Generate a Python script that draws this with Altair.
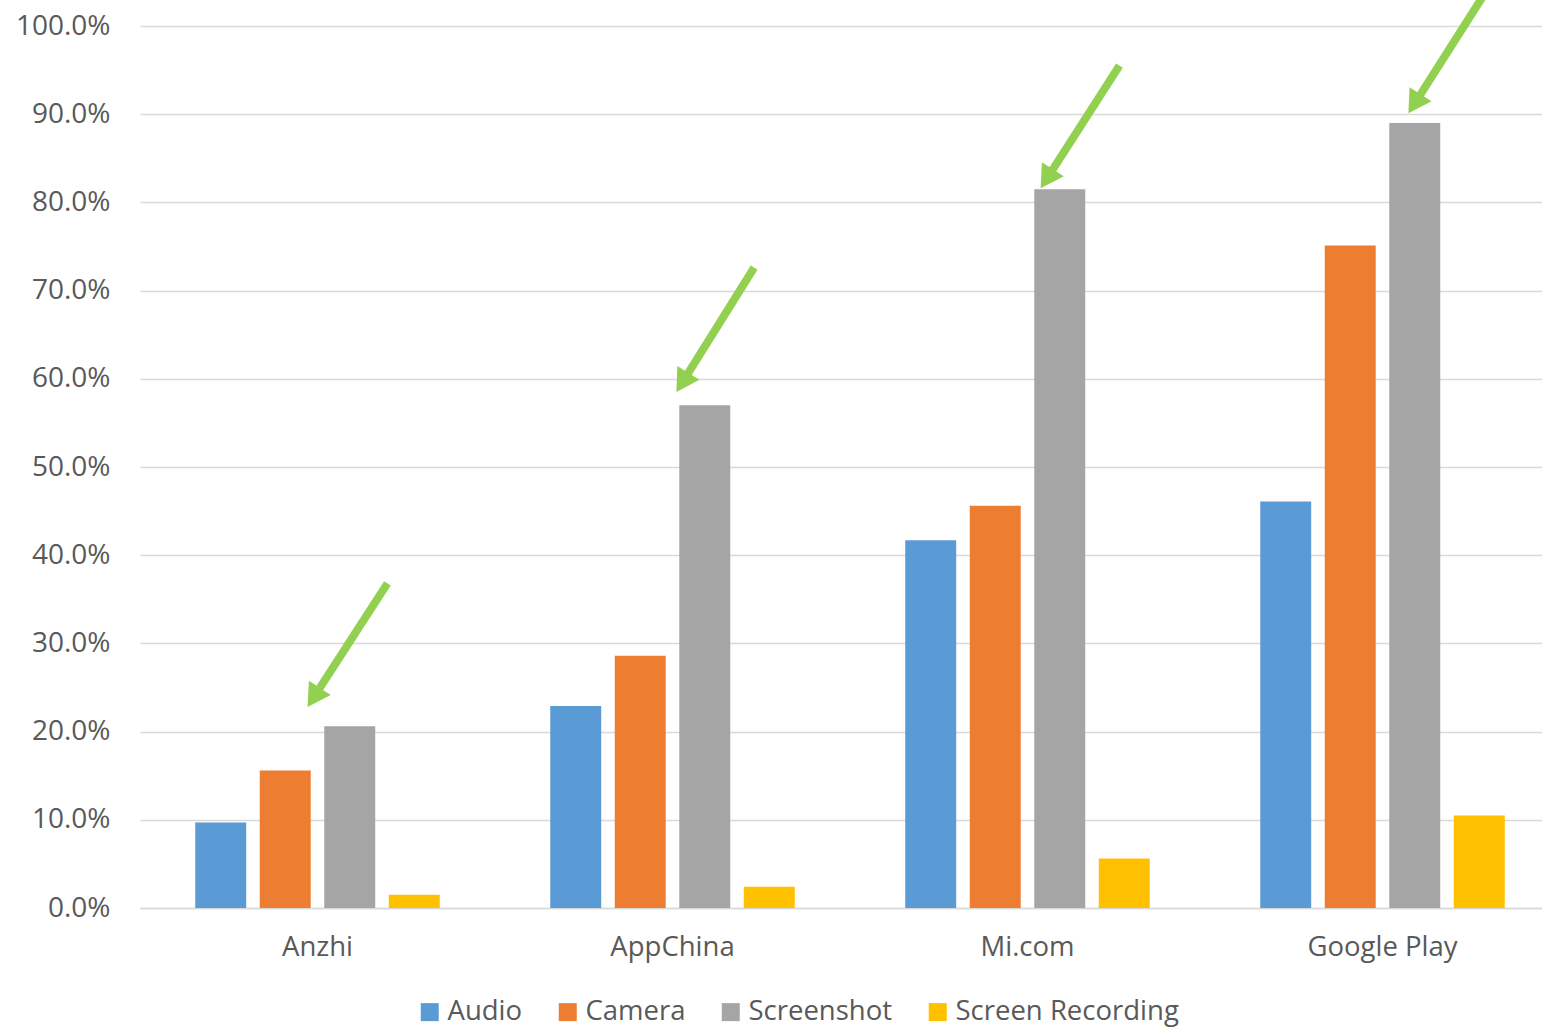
import math
import altair as alt
import pandas as pd

# ---------------- data ----------------
stores = ["Anzhi", "AppChina", "Mi.com", "Google Play"]
series = ["Audio", "Camera", "Screenshot", "Screen Recording"]
audio = [0.097, 0.229, 0.417, 0.461]
camera = [0.156, 0.286, 0.456, 0.751]
screenshot = [0.206, 0.570, 0.815, 0.890]
recording = [0.015, 0.024, 0.056, 0.105]
y_ticks = [0.0, 0.1, 0.2, 0.3, 0.4, 0.5, 0.6, 0.7, 0.8, 0.9, 1.0]

# arrow annotations (x offsets from the store's centre in store-widths, y in share)
arrow_tail_dx = [0.197, 0.230, 0.259, 0.293]
arrow_tail_y = [0.368, 0.726, 0.955, 1.040]
arrow_tip_dx = [-0.028, 0.011, 0.037, 0.073]
arrow_tip_y = [0.228, 0.585, 0.816, 0.901]

colors = ["#5B9BD5", "#ED7D31", "#A5A5A5", "#FFC000"]
arrow_color = "#92D050"
text_color = "#595959"
font = "Open Sans"

W, H = 1400, 882
XR = 1420                # band range (plot continues past the right edge)
PX_X = XR / len(stores)  # px per store unit
PX_Y = H / 1.0           # px per 100%
HEAD_SIZE = 680
HEAD_H = math.sqrt(3) / 2 * math.sqrt(HEAD_SIZE) / 2

rows = []
for i, s in enumerate(stores):
    for name, vals in zip(series, [audio, camera, screenshot, recording]):
        rows.append({"store": s, "series": name, "value": vals[i]})
bars_df = pd.DataFrame(rows)

arows = []
for i in range(len(stores)):
    tx, ty = i + 0.5 + arrow_tail_dx[i], arrow_tail_y[i]
    px_, py_ = i + 0.5 + arrow_tip_dx[i], arrow_tip_y[i]
    dxp = (px_ - tx) * PX_X
    dyp = -(py_ - ty) * PX_Y
    L = math.hypot(dxp, dyp)
    ux, uy = dxp / L, dyp / L
    hx = px_ - HEAD_H * ux / PX_X
    hy = py_ + HEAD_H * uy / PX_Y
    ang = math.degrees(math.atan2(dxp, -dyp)) % 360
    arows.append({"tx": tx, "ty": ty, "hx": hx, "hy": hy, "angle": ang})
arrows_df = pd.DataFrame(arows)

yscale = alt.Scale(domain=[0, 1], nice=False)

bars = alt.Chart(bars_df).mark_bar().encode(
    x=alt.X("store:N", sort=stores,
            scale=alt.Scale(paddingInner=0.273, paddingOuter=0.1365, range=[0, XR]),
            axis=alt.Axis(title=None, labelAngle=0, ticks=False, domain=True,
                          domainColor="#d9d9d9", domainWidth=1.5,
                          labelPadding=25, labelFontSize=27.5, labelColor=text_color,
                          labelFont=font)),
    xOffset=alt.XOffset("series:N", sort=series,
                        scale=alt.Scale(paddingInner=0.21, paddingOuter=0.105)),
    y=alt.Y("value:Q", scale=yscale,
            axis=alt.Axis(title=None, values=y_ticks, format=".1%", grid=True,
                          gridColor="#d9d9d9", gridWidth=1.5, domain=False, ticks=False,
                          labelPadding=30, labelFontSize=28, labelColor=text_color,
                          labelFont=font)),
    color=alt.Color("series:N", sort=series,
                    scale=alt.Scale(domain=series, range=colors),
                    legend=alt.Legend(title=None, orient="none", direction="horizontal",
                                      legendX=276, legendY=972,
                                      symbolType="square", symbolSize=324,
                                      symbolStrokeWidth=0, labelFontSize=27.5,
                                      labelFont=font, labelColor=text_color,
                                      labelLimit=400,
                                      columnPadding=31, labelOffset=4)),
)

xq = alt.Scale(domain=[0, len(stores)], nice=False, zero=False, range=[0, XR])

shafts = alt.Chart(arrows_df).mark_rule(color=arrow_color, strokeWidth=8).encode(
    x=alt.X("tx:Q", scale=xq, axis=None),
    x2="hx:Q",
    y=alt.Y("ty:Q", scale=yscale),
    y2="hy:Q",
)

heads = alt.Chart(arrows_df).mark_point(shape="triangle-up", filled=True, opacity=1,
                                        color=arrow_color, size=HEAD_SIZE).encode(
    x=alt.X("hx:Q", scale=xq, axis=None),
    y=alt.Y("hy:Q", scale=yscale),
    angle=alt.Angle("angle:Q", scale=None),
)

chart = alt.layer(bars, shafts + heads).resolve_scale(x="independent").properties(
    width=W, height=H,
    autosize=alt.AutoSizeParams(type="none"),
    padding={"left": 140, "top": 26, "right": 2, "bottom": 120},
).configure_view(stroke=None)

chart.save("out.html", embed_options={"renderer": "svg", "actions": False})
